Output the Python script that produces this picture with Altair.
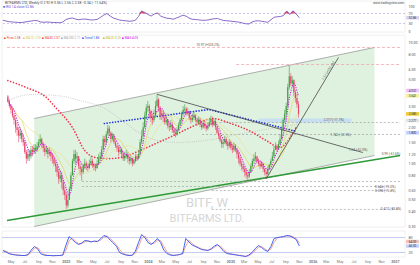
import altair as alt
import pandas as pd
import numpy as np

# ---------------- data (weekly candles, week 0 = 2022-03-28) ----------------
START = pd.Timestamp("2022-03-28")
FIRST_OPEN = 3.6
closes = [
    3.3, 3.0, 2.8, 2.5, 2.3, 2.0, 1.9, 1.7, 1.8, 1.6,
    1.5, 1.25, 1.1, 1.2, 1.15, 1.3, 1.25, 1.35, 1.3, 1.4,
    1.5, 1.6, 1.45, 1.35, 1.25, 1.3, 1.2, 1.25, 1.15, 1.1,
    1.0, 0.95, 0.85, 0.75, 0.8, 0.7, 0.6, 0.55, 0.45, 0.5,
    0.62, 0.8, 1.05, 1.2, 1.1, 1.15, 0.95, 0.9, 0.85, 0.95,
    1.0, 0.95, 0.92, 1.0, 1.05, 0.98, 0.95, 0.92, 1.0, 1.1,
    1.15, 1.3, 1.6, 1.5, 1.75, 1.95, 1.8, 1.6, 1.7, 1.5,
    1.4, 1.35, 1.25, 1.3, 1.2, 1.1, 1.15, 1.2, 1.1, 1.05,
    1.1, 1.0, 1.05, 1.15, 1.1, 1.2, 1.5, 1.7, 2.0, 2.5,
    2.9, 3.0, 2.7, 2.4, 2.3, 2.5, 3.0, 3.4, 2.9, 2.5,
    2.6, 2.4, 2.2, 2.3, 2.05, 2.0, 2.1, 1.9, 1.8, 1.75,
    1.9, 2.1, 2.3, 2.6, 2.8, 2.85, 2.6, 2.7, 2.4, 2.3,
    2.4, 2.5, 2.3, 2.2, 2.3, 2.1, 2.0, 2.15, 2.05, 1.95,
    2.05, 2.2, 2.35, 2.1, 2.25, 2.0, 1.8, 1.7, 1.55, 1.45,
    1.5, 1.6, 1.45, 1.4, 1.5, 1.35, 1.3, 1.4, 1.3, 1.2,
    1.1, 1.0, 0.95, 0.9, 0.85, 0.8, 0.78, 0.85, 0.95, 1.05,
    1.1, 1.15, 1.05, 1.0, 0.95, 1.0, 0.9, 0.85, 0.82, 0.9,
    0.98, 1.05, 1.15, 1.3, 1.4, 1.3, 1.45, 1.6, 1.9, 2.3,
    2.6, 3.0, 4.3, 5.3, 4.6, 4.9, 3.9, 3.5, 3.1, 2.58,
]
highs = [
    3.7, 3.4, 3.1, 2.9, 2.6, 2.4, 2.2, 2.0, 2.0, 1.9,
    1.75, 1.55, 1.3, 1.3, 1.3, 1.4, 1.4, 1.45, 1.45, 1.5,
    1.6, 1.75, 1.65, 1.5, 1.4, 1.4, 1.35, 1.35, 1.3, 1.2,
    1.15, 1.05, 1.0, 0.9, 0.88, 0.85, 0.72, 0.65, 0.58, 0.55,
    0.65, 0.85, 1.1, 1.3, 1.3, 1.25, 1.15, 1.0, 0.95, 1.0,
    1.1, 1.05, 1.0, 1.08, 1.15, 1.1, 1.02, 1.0, 1.08, 1.2,
    1.25, 1.4, 1.7, 1.7, 1.85, 2.1, 2.05, 1.85, 1.8, 1.75,
    1.55, 1.45, 1.4, 1.4, 1.35, 1.25, 1.25, 1.3, 1.25, 1.15,
    1.15, 1.12, 1.1, 1.2, 1.2, 1.3, 1.6, 1.9, 2.2, 2.7,
    3.1, 3.3, 3.1, 2.8, 2.6, 2.8, 3.3, 3.75, 3.5, 3.0,
    2.8, 2.7, 2.5, 2.5, 2.35, 2.2, 2.3, 2.2, 2.0, 1.95,
    2.0, 2.2, 2.4, 2.7, 3.0, 3.1, 2.95, 2.9, 2.75, 2.5,
    2.6, 2.7, 2.55, 2.4, 2.45, 2.4, 2.2, 2.3, 2.25, 2.1,
    2.2, 2.35, 2.5, 2.45, 2.4, 2.3, 2.05, 1.9, 1.8, 1.6,
    1.6, 1.7, 1.65, 1.55, 1.6, 1.55, 1.45, 1.5, 1.45, 1.35,
    1.25, 1.15, 1.05, 1.0, 0.95, 0.9, 0.85, 0.9, 1.0, 1.1,
    1.2, 1.25, 1.15, 1.1, 1.05, 1.05, 1.0, 0.92, 0.88, 0.95,
    1.0, 1.1, 1.25, 1.4, 1.5, 1.45, 1.55, 1.75, 2.0, 2.4,
    2.8, 3.2, 4.6, 6.5, 5.6, 5.3, 5.0, 4.1, 3.8, 3.3,
]
lows = [
    3.2, 2.9, 2.6, 2.4, 2.1, 1.8, 1.7, 1.5, 1.6, 1.5,
    1.4, 1.2, 1.0, 1.05, 1.05, 1.1, 1.15, 1.2, 1.2, 1.25,
    1.35, 1.45, 1.35, 1.25, 1.15, 1.2, 1.1, 1.15, 1.05, 1.0,
    0.95, 0.85, 0.78, 0.68, 0.7, 0.62, 0.55, 0.5, 0.42, 0.43,
    0.5, 0.6, 0.8, 1.0, 1.0, 1.0, 0.9, 0.8, 0.72, 0.82,
    0.9, 0.88, 0.86, 0.9, 0.97, 0.92, 0.88, 0.86, 0.9, 0.98,
    1.05, 1.1, 1.3, 1.4, 1.45, 1.7, 1.7, 1.5, 1.55, 1.45,
    1.35, 1.25, 1.15, 1.2, 1.1, 1.05, 1.05, 1.1, 1.02, 0.98,
    1.0, 0.95, 0.98, 1.02, 1.05, 1.1, 1.2, 1.45, 1.65, 1.95,
    2.4, 2.7, 2.4, 2.2, 2.1, 2.2, 2.4, 2.9, 2.7, 2.3,
    2.3, 2.2, 2.1, 2.1, 1.95, 1.85, 1.9, 1.8, 1.7, 1.65,
    1.7, 1.85, 2.05, 2.2, 2.5, 2.6, 2.5, 2.5, 2.3, 2.15,
    2.2, 2.3, 2.2, 2.05, 2.1, 2.0, 1.9, 1.95, 1.95, 1.85,
    1.9, 2.0, 2.1, 2.0, 2.05, 1.9, 1.75, 1.6, 1.5, 1.35,
    1.35, 1.45, 1.4, 1.3, 1.35, 1.3, 1.22, 1.25, 1.25, 1.1,
    1.0, 0.95, 0.88, 0.85, 0.78, 0.75, 0.71, 0.76, 0.85, 0.93,
    1.0, 1.05, 1.0, 0.95, 0.9, 0.93, 0.85, 0.8, 0.75, 0.8,
    0.88, 0.95, 1.05, 1.12, 1.3, 1.25, 1.3, 1.42, 1.6, 1.85,
    2.2, 2.4, 2.9, 4.1, 4.4, 4.3, 3.6, 3.2, 2.9, 2.4,
]
# indicators, read every 2 weeks
rsi_vals = [
    43, 40, 37, 36, 35, 34, 34, 36, 38, 40,
    42, 41, 36, 35, 36, 35, 34, 34, 33, 36,
    46, 50, 52, 48, 45, 47, 48, 46, 44, 45,
    47, 55, 64, 70, 60, 52, 48, 44, 42, 41,
    39, 40, 43, 58, 80, 74, 66, 60, 68, 72,
    60, 55, 51, 50, 47, 52, 57, 63, 60, 52,
    47, 46, 45, 43, 43, 44, 47, 49, 50, 46,
    42, 41, 40, 38, 37, 35, 32, 29, 28, 36,
    40, 41, 39, 37, 35, 45, 55, 57, 58, 62,
    80, 66, 81, 68, 53,
]
stoch_k = [
    28, 22, 15, 12, 10, 9, 8, 8, 12, 30,
    44, 35, 15, 10, 8, 8, 7, 8, 8, 10,
    50, 84, 72, 60, 52, 58, 68, 66, 62, 66,
    64, 75, 88, 84, 70, 58, 45, 20, 14, 10,
    8, 9, 25, 60, 92, 80, 60, 52, 62, 76,
    60, 30, 16, 10, 8, 10, 12, 16, 76, 62,
    50, 44, 38, 32, 30, 28, 35, 45, 52, 40,
    25, 16, 14, 12, 10, 8, 6, 4, 10, 20,
    35, 48, 40, 30, 24, 45, 76, 80, 82, 84,
    88, 86, 80, 72, 46,
]
# drawings
END = "2027-02-15"
channel_dates = ["2022-07-26", "2026-10-22"]
channel_top = [2.364, 9.17]
channel_bottom = [0.301, 1.167]
support_dates = ["2022-03-24", END]
support_prices = [0.3374, 1.167]
fall_dates = ["2024-02-05", "2026-08-30"]
fall_prices = [3.75, 1.235]
rise_dates = ["2025-06-16", "2026-05-11"]
rise_prices = [0.75, 7.57]
blue_dates = ["2023-06-10", "2024-09-28", "2025-11-01"]
blue_prices = [2.149, 2.807, 1.845]
ma50_weeks = [0, 12, 25, 31, 42, 50, 57, 66, 76, 86, 99, 105, 120, 133, 145, 158, 168, 177, 183, 188]
ma50_prices = [4.88, 4.27, 3.53, 2.92, 1.99, 1.284, 1.123, 1.10, 1.145, 1.284, 1.524, 1.645,
               2.03, 2.364, 2.149, 1.845, 1.553, 1.359, 1.614, 2.067]
ma100_weeks = [0, 15, 31, 47, 63, 76, 85, 95, 110, 133, 152, 171, 188]
ma100_prices = [3.333, 3.737, 3.67, 3.333, 2.861, 2.19, 1.81, 1.583, 1.496, 1.583, 1.77, 1.953, 2.108]
pink_levels = [9.17, 6.625]
pink_starts = ["2022-03-24", "2025-01-30"]
gray_levels = [2.19, 1.742, 0.7106, 0.646, 0.598, 0.417]
gray_starts = ["2024-10-11", "2024-08-28", "2023-03-01", "2023-03-01", "2024-10-11", "2024-10-11"]
gray_ends = [END, END, END, "2026-12-19", "2026-12-19", END]
band_dates = ["2025-05-12", "2026-07-09"]
band_prices = [2.19, 2.364]
ann_dates = ["2024-09-23", "2026-04-19", "2026-05-20", "2027-01-05", "2026-08-08", "2026-12-10", "2026-12-10", "2027-01-05"]
ann_prices = [9.7, 2.277, 1.742, 1.20, 1.30, 0.646, 0.598, 0.417]
ann_texts = ["10.97 (+325.2%)", "2.277 (-11.7%)", "1.742 (-32.5%)", "0.99 (-61.6%)",
             "1.24 (-52.0%)", "0.646 (-75.0%)", "0.598 (-76.8%)", "0.417 (-83.8%)"]
box_prices = [4.03, 3.64, 2.58, 2.277, 1.80]
box_colors = ["#f3c4f7", "#f6ef9c", "#f2cc3c", "#e4e4e4", "#c7d2ff"]
box_texts = ["4.032", "3.641", "2.580", "2.277", "1.800"]
rsi_box = [52.86]
stoch_boxes = [64.0, 46.0]
stoch_box_colors = ["#f6c1bb", "#c7d2ff"]
stoch_box_texts = ["64.00", "46.00"]

# ---------------- tables ----------------
n = len(closes)
wk = lambda i: (START + pd.Timedelta(weeks=int(i))).strftime("%Y-%m-%d")
c = pd.DataFrame(dict(date=[wk(i) for i in range(n)], open=[FIRST_OPEN] + closes[:-1],
                      close=closes, high=highs, low=lows))
c["high"] = c[["high", "open", "close"]].max(axis=1)
c["low"] = c[["low", "open", "close"]].min(axis=1)
c["dir"] = np.where(c["close"] >= c["open"], "up", "down")
c["ma5"] = c["close"].rolling(5, min_periods=1).mean()
c["ma10"] = c["close"].rolling(10, min_periods=1).mean()
c["ma20"] = c["close"].rolling(20, min_periods=1).mean()

FONT = "Roboto"
xscale = alt.Scale(domain=[alt.DateTime(year=2022, month=3, date=24),
                           alt.DateTime(year=2027, month=2, date=15)])
X = alt.X("date:T", scale=xscale, axis=None)
yscale = alt.Scale(type="log", domain=[0.2982, 11.63], nice=False)
yax = alt.Axis(orient="right", values=[0.3, 0.4, 0.5, 0.6, 0.8, 1, 1.2, 1.5, 2, 3, 5, 6, 8, 10],
               format=".2f", labelFontSize=3.6, labelColor="#555555", ticks=False, tickSize=0, domain=False,
               grid=False, title=None, labelPadding=3)


def Y(f):
    return alt.Y(f, scale=yscale, axis=yax)


def line(dates, prices):
    return pd.DataFrame({"date": dates, "price": prices})


def one(text):
    return pd.DataFrame({"t": [text]})


chan = pd.DataFrame({"date": channel_dates, "top": channel_top, "bottom": channel_bottom})
chan_area = alt.Chart(chan).mark_area(color="#dff2df").encode(x=X, y=Y("top:Q"), y2="bottom:Q")
chan_edges = pd.concat([line(channel_dates, channel_top).assign(g="t"),
                        line(channel_dates, channel_bottom).assign(g="b")])
chan_lines = alt.Chart(chan_edges).mark_line(color="#9a9a9a", strokeWidth=0.8).encode(x=X, y=Y("price:Q"), detail="g:N")
support = alt.Chart(line(support_dates, support_prices)).mark_line(color="#2f9a37", strokeWidth=1.6).encode(x=X, y=Y("price:Q"))

pink = pd.DataFrame({"date": pink_starts, "end": END, "price": pink_levels})
pink_rules = alt.Chart(pink).mark_rule(color="#f4a7b0", strokeWidth=0.8, strokeDash=[3, 2]).encode(
    x=X, x2="end:T", y=Y("price:Q"))
gray = pd.DataFrame({"date": gray_starts, "end": gray_ends, "price": gray_levels})
gray_rules = alt.Chart(gray).mark_rule(color="#a0a0a0", strokeWidth=0.7, strokeDash=[2, 2]).encode(
    x=X, x2="end:T", y=Y("price:Q"))
band = pd.DataFrame({"date": [band_dates[0]], "end": [band_dates[1]], "p1": [band_prices[0]], "p2": [band_prices[1]]})
band_rect = alt.Chart(band).mark_rect(color="#c3dcf5", opacity=0.85).encode(x=X, x2="end:T", y=Y("p1:Q"), y2="p2:Q")

ma100 = alt.Chart(line([wk(w) for w in ma100_weeks], ma100_prices)).mark_line(
    color="#bdbdbd", strokeWidth=1.0, strokeDash=[0.01, 2.2], strokeCap="round", interpolate="monotone").encode(
    x=X, y=Y("price:Q"))
ma50 = alt.Chart(line([wk(w) for w in ma50_weeks], ma50_prices)).mark_line(
    color="#f0334f", strokeWidth=1.7, strokeDash=[0.01, 3.0], strokeCap="round", interpolate="monotone").encode(
    x=X, y=Y("price:Q"))
blue = alt.Chart(line(blue_dates, blue_prices)).mark_line(
    color="#2233dd", strokeWidth=1.7, strokeDash=[0.01, 2.8], strokeCap="round").encode(x=X, y=Y("price:Q"))
ylw1 = alt.Chart(c).mark_line(color="#ded65a", strokeWidth=0.7).encode(x=X, y=Y("ma10:Q"))
ylw2 = alt.Chart(c).mark_line(color="#e8e290", strokeWidth=0.7).encode(x=X, y=Y("ma20:Q"))

cc = alt.Color("dir:N", scale=alt.Scale(domain=["up", "down"], range=["#3f9f45", "#e8436a"]), legend=None)
wicks = alt.Chart(c).mark_rule(strokeWidth=0.6).encode(x=X, y=Y("low:Q"), y2="high:Q", color=cc)
bodies = alt.Chart(c).mark_bar(size=1.15).encode(x=X, y=Y("open:Q"), y2="close:Q", color=cc)
ma5 = alt.Chart(c).mark_line(color="#d81be0", strokeWidth=1.3, strokeDash=[0.01, 2.4], strokeCap="round").encode(
    x=X, y=Y("ma5:Q"))

fall = alt.Chart(line(fall_dates, fall_prices)).mark_line(color="#474747", strokeWidth=0.8).encode(x=X, y=Y("price:Q"))
rise = alt.Chart(line(rise_dates, rise_prices)).mark_line(color="#474747", strokeWidth=0.8).encode(x=X, y=Y("price:Q"))

ann = pd.DataFrame({"date": ann_dates, "price": ann_prices, "t": ann_texts})
ann_txt = alt.Chart(ann).mark_text(fontSize=3.2, color="#555555", font=FONT).encode(x=X, y=Y("price:Q"), text="t:N")
rise_lbl = alt.Chart(pd.DataFrame({"date": ["2026-03-26"], "price": [5.9], "t": ["7.57 (+193.4%)"]})).mark_text(
    fontSize=3.2, color="#555555", angle=302, font=FONT).encode(x=X, y=Y("price:Q"), text="t:N")

boxes = pd.DataFrame({"price": box_prices, "col": box_colors, "t": box_texts})
boxes["lo"] = boxes["price"] / 1.035
boxes["hi"] = boxes["price"] * 1.035
box_rect = alt.Chart(boxes).mark_rect().encode(x=alt.value(404), x2=alt.value(417), y=Y("lo:Q"), y2="hi:Q",
                                               color=alt.Color("col:N", scale=None))
box_txt = alt.Chart(boxes).mark_text(fontSize=3.0, color="#333333", font=FONT).encode(
    x=alt.value(410.5), y=Y("price:Q"), text="t:N")

wm1 = alt.Chart(one("BITF, W")).mark_text(fontSize=13, color="#d6d6d6", font=FONT, align="center").encode(
    x=alt.value(205), y=alt.value(168), text="t:N")
wm2 = alt.Chart(one("BITFARMS LTD.")).mark_text(fontSize=11, color="#d6d6d6", font=FONT, align="center").encode(
    x=alt.value(205), y=alt.value(184), text="t:N")

legend_items = [("■ Price 2.58", "#e53935", 2), ("■ MA10 2.95", "#d8c93a", 21), ("■ MA50 2.07", "#f23645", 40),
                ("■ MA100 2.11", "#9e9e9e", 59), ("■ Trend 1.85", "#2a3ff0", 80), ("■ MA20 3.20", "#c8b400", 101),
                ("■ MA5 4.03", "#d500f9", 120)]
legend_layers = [alt.Chart(one(t)).mark_text(fontSize=3.1, color=col, font=FONT, align="left").encode(
    x=alt.value(px), y=alt.value(3), text="t:N") for t, col, px in legend_items]

main = alt.layer(wm1, wm2, chan_area, chan_lines, support, band_rect, pink_rules, gray_rules, ma100, ma50, blue,
                 ylw1, ylw2, wicks, bodies, ma5, fall, rise, ann_txt, rise_lbl, box_rect, box_txt,
                 *legend_layers).properties(width=403, height=192)

# ---------------- RSI pane ----------------
rdates = [wk(2 * i) for i in range(len(rsi_vals))]
rsi = pd.DataFrame({"date": rdates, "rsi": rsi_vals})
rsi["ob"] = rsi["rsi"].clip(lower=70)
rsi["base"] = 70
rsi_scale = alt.Scale(domain=[-4, 120], nice=False, zero=False)
rsi_ax = alt.Axis(orient="right", values=[0, 30, 70, 100], labelFontSize=3.6, labelColor="#555555",
                  ticks=False, tickSize=0, domain=False, grid=False, title=None, labelPadding=3)
lv = pd.DataFrame({"v": [70, 30]})
rsi_rules = alt.Chart(lv).mark_rule(color="#a9a4e6", strokeWidth=0.6, strokeDash=[2, 2]).encode(
    y=alt.Y("v:Q", scale=rsi_scale, axis=rsi_ax))
rsi_fill = alt.Chart(rsi).mark_area(color="#ef3b4a", opacity=0.9).encode(
    x=X, y=alt.Y("ob:Q", scale=rsi_scale, axis=rsi_ax), y2="base:Q")
rsi_line = alt.Chart(rsi).mark_line(color="#7e57c2", strokeWidth=0.9).encode(
    x=X, y=alt.Y("rsi:Q", scale=rsi_scale, axis=rsi_ax))
rb = pd.DataFrame({"v": rsi_box, "t": ["52.86"]})
rb["lo"] = rb["v"] - 7
rb["hi"] = rb["v"] + 7
rsi_box_rect = alt.Chart(rb).mark_rect(color="#d9d2f0").encode(
    x=alt.value(404), x2=alt.value(417), y=alt.Y("lo:Q", scale=rsi_scale, axis=rsi_ax), y2="hi:Q")
rsi_box_txt = alt.Chart(rb).mark_text(fontSize=3.0, color="#333333", font=FONT).encode(
    x=alt.value(410.5), y=alt.Y("v:Q", scale=rsi_scale, axis=rsi_ax), text="t:N")
hdr = alt.Chart(one("BITFARMS LTD, Weekly   O 2.92  H 3.06  L 2.56  C 2.58  −0.34 (−11.64%)")).mark_text(
    fontSize=3.4, color="#444444", font=FONT, align="left", baseline="top").encode(
    x=alt.value(3), y=alt.value(0.4), text="t:N")
rsi_leg = alt.Chart(one("■ RSI 14 close  52.86")).mark_text(
    fontSize=3.4, color="#5b57d6", font=FONT, align="left", baseline="top").encode(
    x=alt.value(1), y=alt.value(4.0), text="t:N")
brand = alt.Chart(one("www.tradingview.com")).mark_text(
    fontSize=3.2, color="#444444", font=FONT, align="right", baseline="top").encode(
    x=alt.value(402), y=alt.value(0.4), text="t:N")
top = alt.layer(rsi_rules, rsi_fill, rsi_line, rsi_box_rect, rsi_box_txt, hdr, rsi_leg, brand).properties(
    width=403, height=31)

# ---------------- Stochastic pane ----------------
st = pd.DataFrame({"date": rdates, "k": stoch_k})
st["d"] = st["k"].rolling(2, min_periods=1).mean()
st_scale = alt.Scale(domain=[2, 106], nice=False, zero=False)
st_ax = alt.Axis(orient="right", values=[20, 80], labelFontSize=3.6, labelColor="#555555",
                 ticks=False, tickSize=0, domain=False, grid=False, title=None, labelPadding=3)
Xb = alt.X("date:T", scale=xscale, axis=alt.Axis(
    orient="bottom", tickCount={"interval": "month", "step": 2},
    labelExpr="month(datum.value) == 0 ? timeFormat(datum.value, '%Y') : timeFormat(datum.value, '%b')",
    labelFontWeight={"condition": {"test": "month(datum.value) == 0", "value": "bold"}, "value": "normal"},
    labelFontSize=3.6, labelColor="#777777", ticks=False, tickSize=0, domain=False, grid=False, title=None,
    labelPadding=2.5, labelFont=FONT))
sl = pd.DataFrame({"v": [80, 20]})
st_rules = alt.Chart(sl).mark_rule(color="#b9bff0", strokeWidth=0.8).encode(y=alt.Y("v:Q", scale=st_scale, axis=st_ax))
st_d = alt.Chart(st).mark_line(color="#f39a90", strokeWidth=0.9).encode(x=Xb, y=alt.Y("d:Q", scale=st_scale, axis=st_ax))
st_k = alt.Chart(st).mark_line(color="#2f55f0", strokeWidth=0.9).encode(x=Xb, y=alt.Y("k:Q", scale=st_scale, axis=st_ax))
sb = pd.DataFrame({"v": stoch_boxes, "col": stoch_box_colors, "t": stoch_box_texts})
sb["lo"] = sb["v"] - 7
sb["hi"] = sb["v"] + 7
st_box_rect = alt.Chart(sb).mark_rect().encode(
    x=alt.value(404), x2=alt.value(417), y=alt.Y("lo:Q", scale=st_scale, axis=st_ax), y2="hi:Q",
    color=alt.Color("col:N", scale=None))
st_box_txt = alt.Chart(sb).mark_text(fontSize=3.0, color="#333333", font=FONT).encode(
    x=alt.value(410.5), y=alt.Y("v:Q", scale=st_scale, axis=st_ax), text="t:N")
bot = alt.layer(st_rules, st_d, st_k, st_box_rect, st_box_txt).properties(width=403, height=26)

chart = alt.vconcat(top, main, bot, spacing=1).properties(
    padding={"left": 0, "top": 0, "right": 0, "bottom": 0}, background="white"
).configure_view(stroke="#e6e6e6", strokeWidth=0.6).configure_axis(labelFont=FONT)

chart.save("out.html", embed_options={"renderer": "svg", "actions": False})
